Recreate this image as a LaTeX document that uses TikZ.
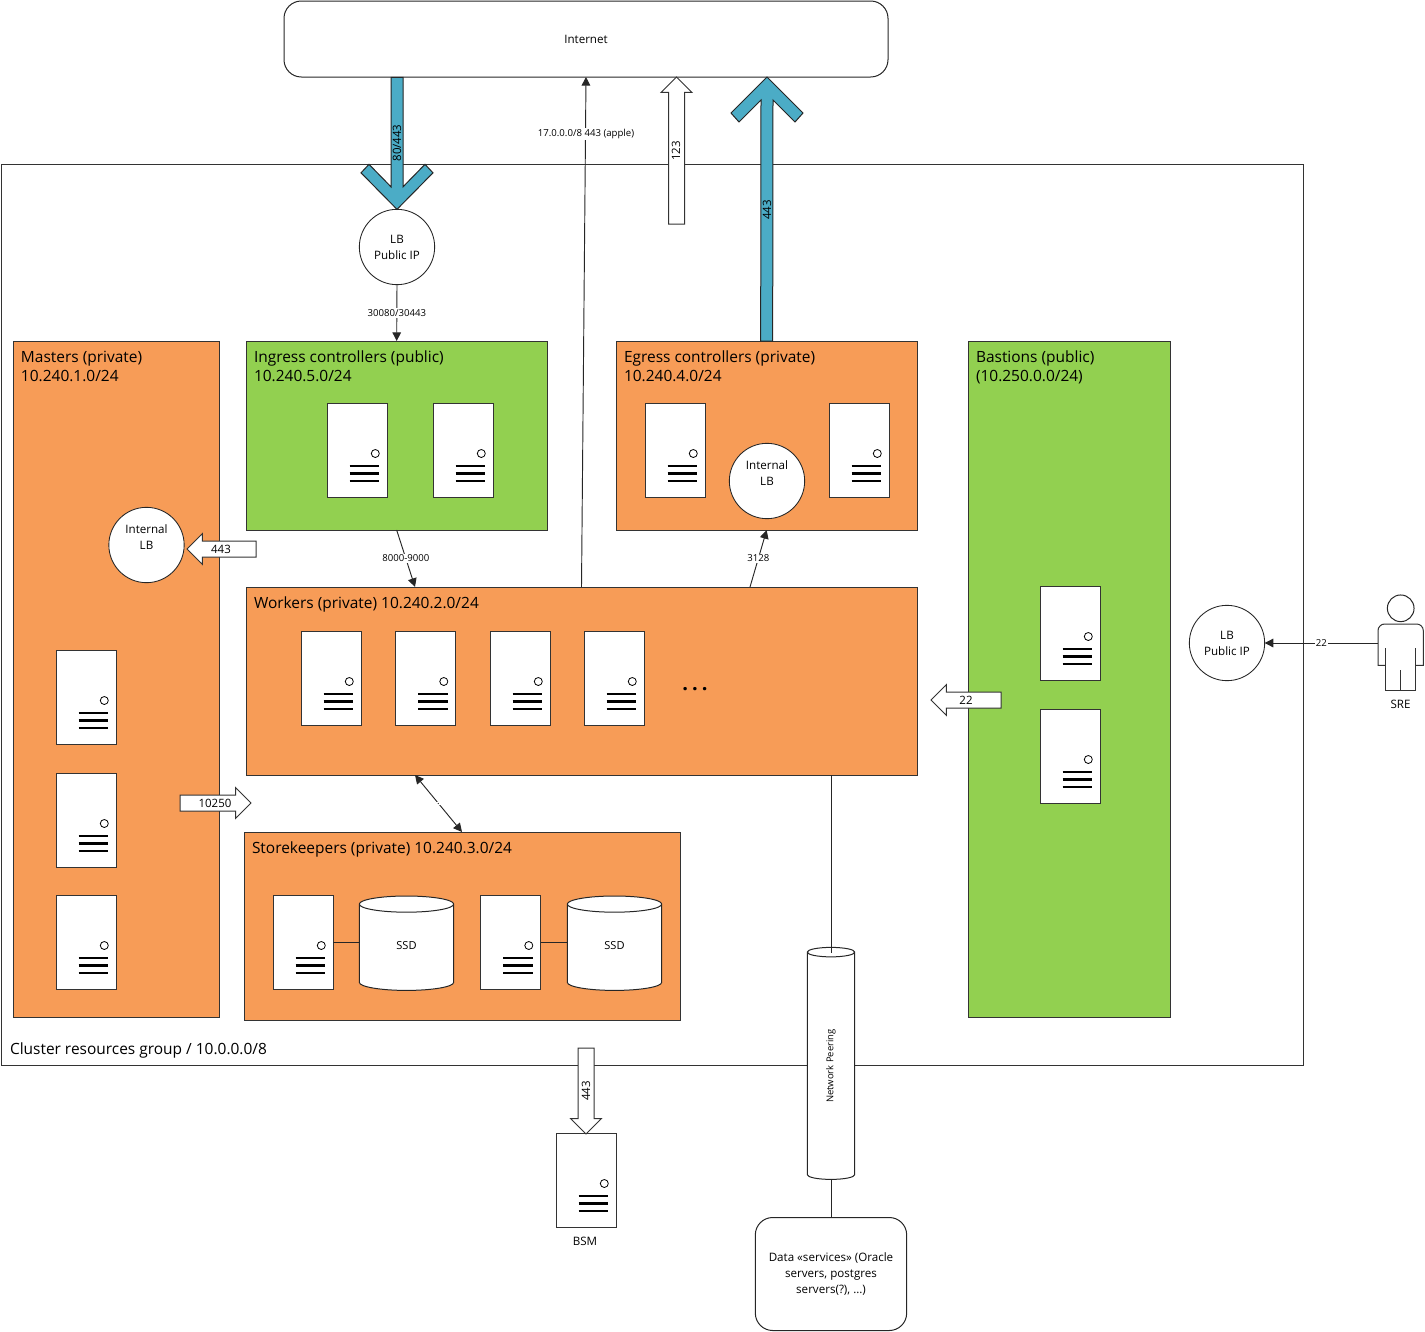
\documentclass[tikz,border=0pt]{standalone}
\usepackage{fontspec}
\setmainfont{Open Sans}
\usetikzlibrary{calc,arrows.meta,shapes.geometric,shapes.arrows}

\definecolor{grouporange}{HTML}{F79C57}
\definecolor{groupgreen}{HTML}{92D050}
\definecolor{flowblue}{HTML}{4BACC6}
\definecolor{edgegray}{HTML}{333333}

\tikzset{
  every node/.style={outer sep=0pt},
  groupbox/.style={draw=edgegray,line width=.75pt,rectangle,inner sep=0pt,anchor=north west},
  grouptext/.style={anchor=north west,inner sep=0pt,align=left,font=\fontsize{11.6}{14.25}\selectfont},
  smalltext/.style={inner sep=0pt,align=center,font=\fontsize{8.7}{12}\selectfont},
  tinytext/.style={inner sep=1pt,fill=white,font=\fontsize{7.2}{8}\selectfont},
  arrowtext/.style={inner sep=0pt,font=\fontsize{8.6}{9}\selectfont},
  srvbox/.style={draw=edgegray,line width=.75pt,fill=white,rectangle,inner sep=0pt,
    minimum width=45pt,minimum height=70.5pt},
  lbcircle/.style={draw=black!85,line width=.65pt,fill=white,circle,inner sep=0pt,
    minimum size=56.5pt,align=center,font=\fontsize{8.7}{12}\selectfont},
  blockarrow/.style={draw=edgegray,line width=.75pt,fill=white,single arrow,inner sep=0pt,
    minimum width=22.5pt,single arrow head extend=5.6pt,single arrow tip angle=90,anchor=tip},
  fatarrow/.style={draw=black!85,line width=.75pt,fill=flowblue},
  thinarrow/.style={draw=black!85,line width=.7pt,-{Triangle[length=6.5pt,width=6.5pt]}},
  thinline/.style={draw=black!85,line width=.7pt},
  ssdcyl/.style={draw=black!85,line width=.75pt,fill=white,cylinder,shape border rotate=90,
    cylinder uses custom fill,cylinder body fill=white,cylinder end fill=white,
    inner sep=0pt,aspect=.8,minimum width=70.8pt,minimum height=70.8pt,
    font=\fontsize{8.3}{9}\selectfont}
}

% keeps the shaft of an empty block arrow open
\newcommand{\shaftgap}{\rule{0pt}{11.25pt}}

% server: name, x and y of its centre
\newcommand{\drawserver}[3]{
  \node[srvbox] (#1) at (#2,#3) {};
  \draw[line width=.6pt,fill=white] ($ (#1)+(18.3,3) $) circle [radius=3pt];
  \foreach \k in {15.7,23,30.3}
    \draw[line width=1.8pt] ($ (#1)+(-7.5,\k) $) -- ($ (#1)+(22,\k) $);
}

\begin{document}
\begin{tikzpicture}[x=.75pt,y=-.75pt]
  \useasboundingbox (0,0) rectangle (1425,1332);

  % frames
  \node[groupbox,minimum width=976.5pt,minimum height=675.75pt] (cluster) at (1,164) {};
  \node[grouptext,anchor=west] (clusterText) at (10,1050) {Cluster resources group / 10.0.0.0/8};
  \node[draw=black!85,line width=.75pt,rectangle,rounded corners=13pt,minimum width=453pt,minimum height=57pt,
    smalltext,inner sep=0pt] (internet) at (586,39) {Internet};

  % groups
  \node[groupbox,fill=grouporange,minimum width=155pt,minimum height=507pt] (masters) at (13,341) {};
  \node[groupbox,fill=groupgreen,minimum width=226pt,minimum height=141.75pt] (ingress) at (246,341) {};
  \node[groupbox,fill=grouporange,minimum width=226pt,minimum height=141.75pt] (egress) at (616,341) {};
  \node[groupbox,fill=groupgreen,minimum width=152pt,minimum height=507pt] (bastions) at (968,341) {};
  \node[groupbox,fill=grouporange,minimum width=503.25pt,minimum height=141pt] (workers) at (246,587) {};
  \node[groupbox,fill=grouporange,minimum width=327pt,minimum height=141pt] (storekeepers) at (244,832) {};

  \node[grouptext] (mastersText) at ($ (masters.north west)+(8,10) $) {Masters (private)\\10.240.1.0/24};
  \node[grouptext] (ingressText) at ($ (ingress.north west)+(8,10) $) {Ingress controllers (public)\\10.240.5.0/24};
  \node[grouptext] (egressText) at ($ (egress.north west)+(8,10) $) {Egress controllers (private)\\10.240.4.0/24};
  \node[grouptext] (bastionsText) at ($ (bastions.north west)+(8,10) $) {Bastions (public)\\(10.250.0.0/24)};
  \node[grouptext] (workersText) at ($ (workers.north west)+(8,10) $) {Workers (private) 10.240.2.0/24};
  \node[grouptext] (storekeepersText) at ($ (storekeepers.north west)+(8,10) $) {Storekeepers (private) 10.240.3.0/24};

  % servers
  \foreach \name/\px/\py in {ingA/357/450.5,ingB/463/450.5,egrA/675/450.5,egrB/859/450.5,
      wrkA/331/678.5,wrkB/425.5/678.5,wrkC/520/678.5,wrkD/614/678.5,
      mstA/86/697.5,mstB/86/820.5,mstC/86/942.5,
      bstA/1070/633.5,bstB/1070/756.5,
      stoA/303/942.5,stoB/510.5/942.5,bsm/586/1180.5}
    {\drawserver{\name}{\px}{\py}}
  \node[smalltext] (bsmText) at (585,1241) {BSM};
  \node[inner sep=0pt,font=\bfseries\fontsize{15}{15}\selectfont\addfontfeature{LetterSpace=20}] (moreDots) at (695,689.5) {...};

  % balancers
  \node[lbcircle] (lbPublic) at (397,247) {LB\\Public IP};
  \node[lbcircle] (lbBastion) at (1227,643) {LB\\Public IP};
  \node[lbcircle] (lbMasters) at (146.5,545) {Internal\\LB\\~};
  \node[lbcircle] (lbEgress) at (767,481) {Internal\\LB\\~};

  % storage
  \node[ssdcyl] (ssdA) at (406.5,947.5) {\raisebox{3.4pt}{SSD}};
  \node[ssdcyl] (ssdB) at (614.5,947.5) {\raisebox{3.4pt}{SSD}};
  \draw[thinline] (stoA.east) -- (stoA.east -| ssdA.west);
  \draw[thinline] (stoB.east) -- (stoB.east -| ssdB.west);

  % peering
  \node[draw=black!85,line width=.75pt,rectangle,rounded corners=13pt,minimum width=113.5pt,minimum height=84.75pt,
    smalltext,inner sep=0pt] (dataServices) at (831,1274) {Data «services» (Oracle\\servers, postgres\\servers(?), …)};
  \node[draw=black!85,line width=.75pt,fill=white,cylinder,cylinder uses custom fill,cylinder body fill=white,
    cylinder end fill=white,rotate=90,aspect=1,inner sep=0pt,minimum width=35.6pt,minimum height=174pt,
    font=\fontsize{7.1}{8}\selectfont] (peering) at (831,1066) {Network Peering};
  \coordinate (peerTop) at (831,953);
  \draw[thinline] ($ (workers.south west)+(585,0) $) -- (peerTop);
  \draw[thinline] (peering.bottom -| dataServices.north) -- (dataServices.north);

  % fat arrows
  \draw[fatarrow] ($ (lbPublic.north)+(-6,-132) $) -- ($ (lbPublic.north)+(-6,-22.5) $)
    -- ($ (lbPublic.north)+(-28,-45) $) -- ($ (lbPublic.north)+(-36,-36.5) $) -- (lbPublic.north)
    -- ($ (lbPublic.north)+(36,-36.5) $) -- ($ (lbPublic.north)+(28,-45) $)
    -- ($ (lbPublic.north)+(6,-22.5) $) -- ($ (lbPublic.north)+(6,-132) $) -- cycle;
  \node[arrowtext,rotate=90] (inText) at (397,143) {80/443};
  \coordinate (egressTip) at (767,77);
  \draw[fatarrow] ($ (egress.north)+(-6,0) $) -- ($ (egressTip)+(-6,23) $)
    -- ($ (egressTip)+(-28,45) $) -- ($ (egressTip)+(-36,36) $) -- (egressTip)
    -- ($ (egressTip)+(36,36) $) -- ($ (egressTip)+(28,45) $)
    -- ($ (egressTip)+(6,23) $) -- ($ (egress.north)+(6,0) $) -- cycle;
  \node[arrowtext,rotate=90] (outText) at (767,210) {443};

  % block arrows
  \node[blockarrow,minimum height=110.25pt,rotate=90] (ntpArrow) at (676.5,77) {\shaftgap};
  \node[arrowtext,rotate=90] (ntpText) at (676,151) {123};
  \node[blockarrow,minimum height=51.75pt,shape border rotate=180] (apiArrow) at (187,549) {\shaftgap};
  \node[arrowtext] (apiText) at (221,549) {443};
  \node[blockarrow,minimum height=52.5pt,shape border rotate=180] (sshArrow) at (931,700) {\shaftgap};
  \node[arrowtext] (sshPort) at (966,700) {22};
  \node[blockarrow,minimum height=53.25pt] (kubeletArrow) at (251,803) {\shaftgap};
  \node[arrowtext] (kubeletText) at (215,803) {10250};
  \node[blockarrow,minimum height=64.5pt,rotate=-90] (bsmArrow) at (586,1134) {\shaftgap};
  \node[arrowtext,rotate=90] (bsmPort) at (586,1091) {443};

  % thin connectors
  \draw[thinarrow] (lbPublic.south) -- node[tinytext] (portsIn) {30080/30443} (ingress.north);
  \draw[thinarrow] (ingress.south) -- node[tinytext] (portsWork) {8000-9000} ($ (workers.north west)+(169,0) $);
  \draw[thinarrow] (workers.north) -- (internet.south);
  \node[tinytext] (appleText) at (586,134) {17.0.0.0/8 443 (apple)};
  \draw[thinarrow] ($ (workers.north west)+(504,0) $) -- node[tinytext] (proxyText) {3128} (egress.south);
  \draw[thinline,{Triangle[length=6.5pt,width=6.5pt]}-{Triangle[length=6.5pt,width=6.5pt]}]
    ($ (workers.south west)+(169,0) $) -- node[tinytext] (storageText) {.} (storekeepers.north);

  % operator
  \node[draw=black!85,line width=.75pt,circle,inner sep=0pt,minimum size=20pt] (sreHead) at (1400.7,608.3) {};
  \coordinate (sreSide) at (1378,643);
  \draw[edgegray,line width=.75pt,rounded corners=5pt] (1385.7,665.3) [sharp corners] -- (1378,665.3) [rounded corners=5pt]
    -- (1378,624) -- (1423.3,624) [sharp corners] -- (1423.3,665.3) -- (1415.7,665.3);
  \draw[edgegray,line width=.75pt] (1385.7,648) -- (1385.7,690) -- (1415.7,690) -- (1415.7,648);
  \draw[edgegray,line width=.75pt] (1400.7,670) -- (1400.7,690);
  \node[smalltext] (sreText) at (1400.5,704) {SRE};
  \draw[thinarrow] (sreSide) -- node[tinytext] (sshText) {22} (lbBastion.east);
\end{tikzpicture}
\end{document}
